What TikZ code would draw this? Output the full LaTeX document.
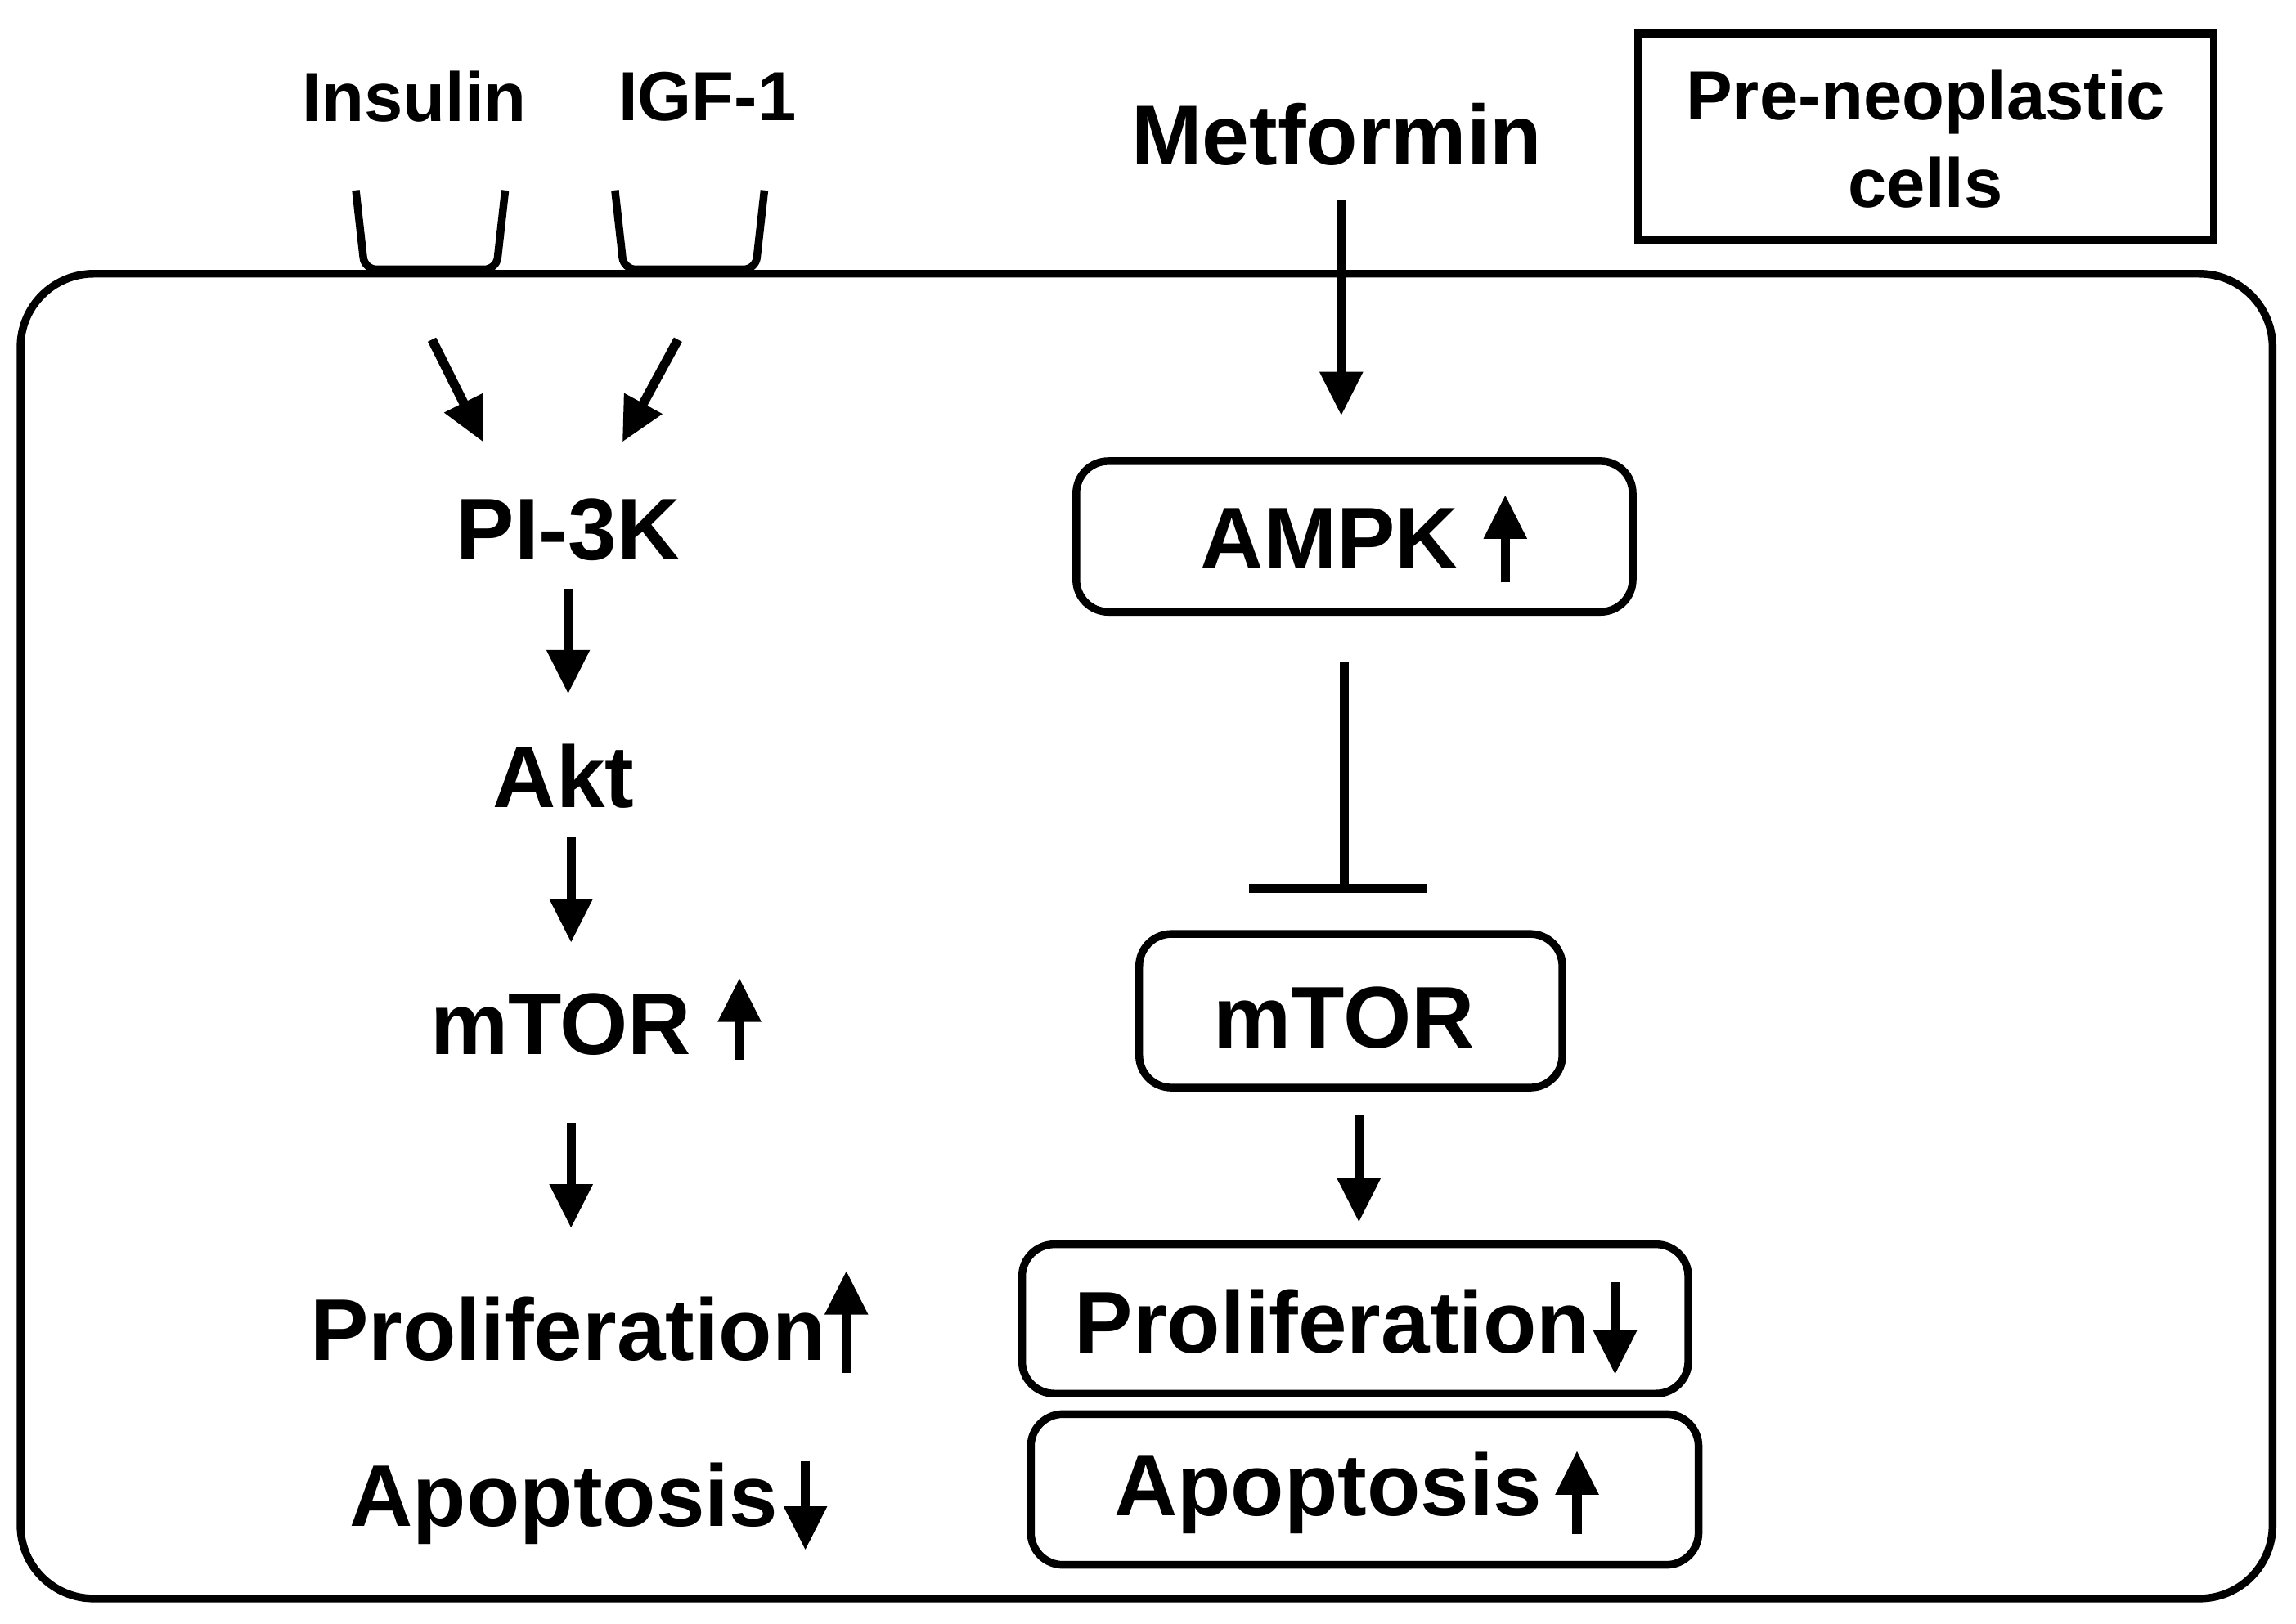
\documentclass[tikz,border=0pt]{standalone}
\usepackage{fontspec}
\setmainfont{Liberation Sans}
\usetikzlibrary{arrows.meta}
\begin{document}
\begin{tikzpicture}[x=0.01cm,y=-0.01cm,
  lbl/.style={font=\bfseries\fontsize{17}{20}\selectfont,inner sep=0pt},
  sml/.style={font=\bfseries\fontsize{13.5}{17}\selectfont,inner sep=0pt,align=center},
  box/.style={draw,line width=1.5pt,rounded corners=0.22cm},
  ar/.style={line width=1.8pt,-{Triangle[length=0.3cm,width=0.28cm]}},
  ln/.style={line width=1.5pt}]
\useasboundingbox (0,0) rectangle (1568,1109);
% cell
\draw[line width=1.5pt,rounded corners=0.5cm] (14,187) rectangle (1552,1092);
% receptors
\draw[ln,rounded corners=0.08cm] (243,130) -- (249,184) -- (339,184) -- (345,130);
\draw[ln,rounded corners=0.08cm] (420,130) -- (426,184) -- (516,184) -- (522,130);
\node[sml] (ins) at (283,66) {Insulin};
\node[sml] (igf) at (483,66) {IGF-1};
\node[sml] (pre) at (1315,95) {Pre-neoplastic\\cells};
\draw[line width=1.5pt] (1119,23) rectangle (1512,164);
\node[font=\bfseries\fontsize{16.5}{20}\selectfont] (met) at (913,92) {Metformin};
% left chain
\coordinate (a1s) at (295,232); \coordinate (a1e) at (330,302);
\coordinate (a2s) at (463,232); \coordinate (a2e) at (425,302);
\draw[ar] (a1s) -- (a1e); \draw[ar] (a2s) -- (a2e);
\node[lbl] (pi) at (388,362) {PI-3K};
\node[lbl] (akt) at (385,530) {Akt};
\node[lbl] (mt1) at (383,700) {mTOR};
\node[lbl] (pr1) at (388,908) {Proliferation};
\node[lbl] (ap1) at (385,1027) {Apoptosis};
\coordinate (b1s) at (388,402); \coordinate (b1e) at (388,474);
\coordinate (b2s) at (390,572); \coordinate (b2e) at (390,644);
\coordinate (b3s) at (390,767); \coordinate (b3e) at (390,839);
\draw[ar] (b1s) -- (b1e); \draw[ar] (b2s) -- (b2e); \draw[ar] (b3s) -- (b3e);
\coordinate (u1s) at (505,724); \coordinate (u1e) at (505,668);
\coordinate (u2s) at (578,938); \coordinate (u2e) at (578,868);
\coordinate (d1s) at (550,998); \coordinate (d1e) at (550,1059);
\draw[ar] (u1s) -- (u1e); \draw[ar] (u2s) -- (u2e); \draw[ar] (d1s) -- (d1e);
% right chain
\draw[box] (735,315) rectangle (1115,418);
\node[lbl] (ampk) at (908,368) {AMPK};
\draw[box] (778,638) rectangle (1067,743);
\node[lbl] (mt2) at (918,695) {mTOR};
\draw[box] (698,850) rectangle (1153,952);
\node[lbl] (pr2) at (910,903) {Proliferation};
\draw[box] (704,966) rectangle (1160,1069);
\node[lbl] (ap2) at (907,1020) {Apoptosis};
\coordinate (m1s) at (916,137); \coordinate (m1e) at (916,284);
\draw[ar] (m1s) -- (m1e);
\coordinate (i1s) at (918,452); \coordinate (i1e) at (918,607);
\draw[line width=1.8pt] (i1s) -- (i1e);
\draw[line width=1.8pt] (853,607) -- (975,607);
\coordinate (m2s) at (928,762); \coordinate (m2e) at (928,835);
\draw[ar] (m2s) -- (m2e);
\coordinate (u3s) at (1028,398); \coordinate (u3e) at (1028,338);
\coordinate (d2s) at (1103,876); \coordinate (d2e) at (1103,939);
\coordinate (u4s) at (1077,1048); \coordinate (u4e) at (1077,991);
\draw[ar] (u3s) -- (u3e); \draw[ar] (d2s) -- (d2e); \draw[ar] (u4s) -- (u4e);
\end{tikzpicture}
\end{document}
